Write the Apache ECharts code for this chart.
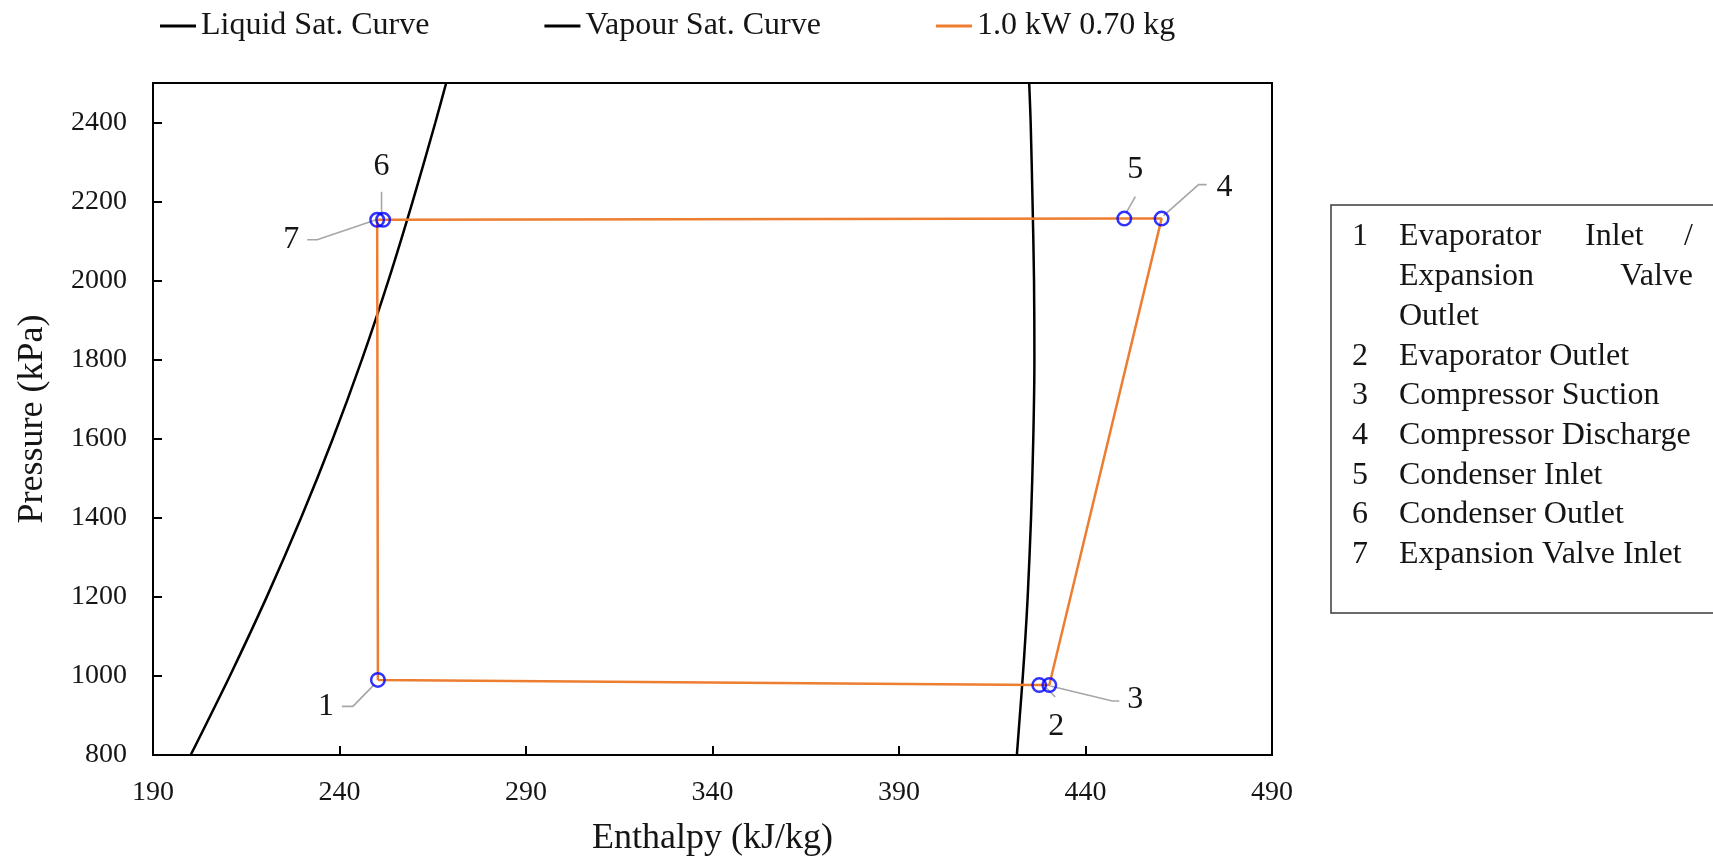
<!DOCTYPE html>
<html><head><meta charset="utf-8">
<script src="https://cdn.jsdelivr.net/npm/echarts@6/dist/echarts.min.js"></script>
<style>html,body{margin:0;padding:0;background:#fff}#c{width:1713px;height:862px}</style>
</head><body><div id="c"></div>
<script>
// ---------- DATA ----------
const seriesNames = ['Liquid Sat. Curve', 'Vapour Sat. Curve', '1.0 kW 0.70 kg'];
const liquidP = [800, 1000, 1200, 1400, 1600, 1800, 2000, 2200, 2400, 2500];
const liquidH = [200.1, 210.6, 220.5, 229.7, 238.2, 246.0, 253.1, 259.6, 265.7, 268.6];
const vapourP = [800, 900, 1000, 1100, 1200, 1400, 1600, 1800, 2000, 2200, 2400, 2500];
const vapourH = [421.6, 422.4, 423.2, 423.9, 424.5, 425.4, 426.0, 426.3, 426.2, 425.8, 425.3, 424.9];
const stateLabels = ['1', '2', '3', '4', '5', '6', '7'];
const stateH = [250.3, 427.6, 430.3, 460.4, 450.4, 251.7, 250.1];
const stateP = [990, 977, 977, 2157, 2157, 2154, 2154];
const cycleOrder = [0, 1, 2, 3, 4, 5, 6, 0];
const xMin = 190, xMax = 490, xInterval = 50;
const yMin = 800, yMax = 2500, yInterval = 200;
const xTitle = 'Enthalpy (kJ/kg)';
const yTitle = 'Pressure (kPa)';
const keyNumbers = ['1', '2', '3', '4', '5', '6', '7'];
const keyTexts = ['Evaporator Inlet / Expansion Valve Outlet', 'Evaporator Outlet', 'Compressor Suction',
  'Compressor Discharge', 'Condenser Inlet', 'Condenser Outlet', 'Expansion Valve Inlet'];

// ---------- STYLE ----------
const FONT = '"Liberation Serif", "Times New Roman", serif';
const TXT = '#151515';
const ORANGE = '#ED7D31';
// label offsets (px) relative to each state point, and leader polyline offsets
const labelLayouts = [
  { dx: -52, dy: 27, line: [[-36, 26.5], [-25, 26.5], [-4, 5]] },
  { dx: 17, dy: 42, line: [[16, 12], [7, 3]] },
  { dx: 86, dy: 15, line: [[70, 16], [63, 16], [1, 1]] },
  { dx: 63, dy: -31, line: [[45, -34], [37, -34], [2, -3]] },
  { dx: 11, dy: -49, line: [[11, -22], [2, -6]] },
  { dx: -1.6, dy: -53, line: [[-1.6, -28], [-1.6, -4]] },
  { dx: -86, dy: 20, line: [[-70, 20], [-60, 20], [-1, 0]] }
];

const liquidData = liquidP.map((p, i) => [liquidH[i], p]);
const vapourData = vapourP.map((p, i) => [vapourH[i], p]);
const cycleData = cycleOrder.map(i => [stateH[i], stateP[i]]);
const stateData = stateH.map((h, i) => [h, stateP[i], i]);

// key box text graphics
const keyGraphics = [{
  type: 'rect', shape: { x: 1331, y: 205, width: 420, height: 408 },
  style: { fill: 'none', stroke: '#3a3a3a', lineWidth: 1.5 }
}];
const kf = '32px ' + FONT;
function kt(text, x, y, align) {
  keyGraphics.push({ type: 'text', x: x, y: y, style: { text: text, font: kf, fill: TXT, align: align || 'left', verticalAlign: 'middle' } });
}
const rowY = i => 237 + 39.7 * i;
kt(keyNumbers[0], 1352, rowY(0));
const w0 = keyTexts[0].split(' ');
kt(w0[0], 1399, rowY(0)); kt(w0[1], 1585, rowY(0)); kt(w0[2], 1693, rowY(0), 'right');
kt(w0[3], 1399, rowY(1)); kt(w0[4], 1693, rowY(1), 'right');
kt(w0[5], 1399, rowY(2));
for (let i = 1; i < keyNumbers.length; i++) {
  kt(keyNumbers[i], 1352, rowY(i + 2));
  kt(keyTexts[i], 1399, rowY(i + 2));
}

const chart = echarts.init(document.getElementById('c'), null, { renderer: 'canvas' });
chart.setOption({
  animation: false,
  backgroundColor: '#fff',
  textStyle: { fontFamily: FONT },
  legend: {
    data: seriesNames, left: 155, top: 5, icon: 'rect', itemWidth: 36, itemHeight: 3, itemGap: 115,
    selectedMode: false,
    textStyle: { fontSize: 32, fontFamily: FONT, color: TXT, lineHeight: 32 }
  },
  grid: { left: 153, top: 83, width: 1119, height: 674, show: true, borderColor: '#000', borderWidth: 2, backgroundColor: 'transparent' },
  xAxis: {
    type: 'value', min: xMin, max: xMax, interval: xInterval,
    name: xTitle, nameLocation: 'middle', nameGap: 66,
    nameTextStyle: { fontSize: 36, fontFamily: FONT, color: TXT },
    axisLine: { show: true, lineStyle: { color: '#000', width: 2 } },
    axisTick: { show: true, inside: true, length: 9, lineStyle: { color: '#000', width: 2 } },
    axisLabel: { fontSize: 28, fontFamily: FONT, color: TXT, margin: 24, formatter: v => String(v) },
    splitLine: { show: false }
  },
  yAxis: {
    type: 'value', min: yMin, max: yMax, interval: yInterval,
    name: yTitle, nameLocation: 'middle', nameGap: 102,
    nameTextStyle: { fontSize: 36, fontFamily: FONT, color: TXT },
    axisLine: { show: true, lineStyle: { color: '#000', width: 2 } },
    axisTick: { show: true, inside: true, length: 9, lineStyle: { color: '#000', width: 2 } },
    axisLabel: { fontSize: 28, fontFamily: FONT, color: TXT, margin: 26, showMaxLabel: false, formatter: v => String(v) },
    splitLine: { show: false }
  },
  graphic: keyGraphics,
  series: [
    { name: seriesNames[0], type: 'line', data: liquidData, showSymbol: false, symbol: 'none', smooth: 0.3,
      color: '#000', lineStyle: { color: '#000', width: 2.5 }, z: 2 },
    { name: seriesNames[1], type: 'line', data: vapourData, showSymbol: false, symbol: 'none', smooth: 0.3,
      color: '#000', lineStyle: { color: '#000', width: 2.5 }, z: 2 },
    { name: seriesNames[2], type: 'line', data: cycleData, showSymbol: false, symbol: 'none',
      color: ORANGE, lineStyle: { color: ORANGE, width: 2.5 }, z: 3 },
    { name: 'annotations', type: 'custom', data: stateData, encode: { x: 0, y: 1 }, z: 4, silent: true,
      renderItem: function (params, api) {
        const i = api.value(2);
        const c = api.coord([api.value(0), api.value(1)]);
        const L = labelLayouts[i];
        return { type: 'group', children: [
          { type: 'polyline', shape: { points: L.line.map(d => [c[0] + d[0], c[1] + d[1]]) },
            style: { stroke: '#a6a6a6', lineWidth: 1.6, fill: null } },
          { type: 'text', x: c[0] + L.dx, y: c[1] + L.dy,
            style: { text: stateLabels[i], font: '32px ' + FONT, fill: TXT, align: 'center', verticalAlign: 'middle' } }
        ] };
      } },
    { name: 'states', type: 'scatter', data: stateData, symbol: 'circle', symbolSize: 13.5, z: 5,
      itemStyle: { color: 'rgba(0,0,0,0)', borderColor: '#0000FF', borderWidth: 2.5 } }
  ]
});
</script></body></html>
